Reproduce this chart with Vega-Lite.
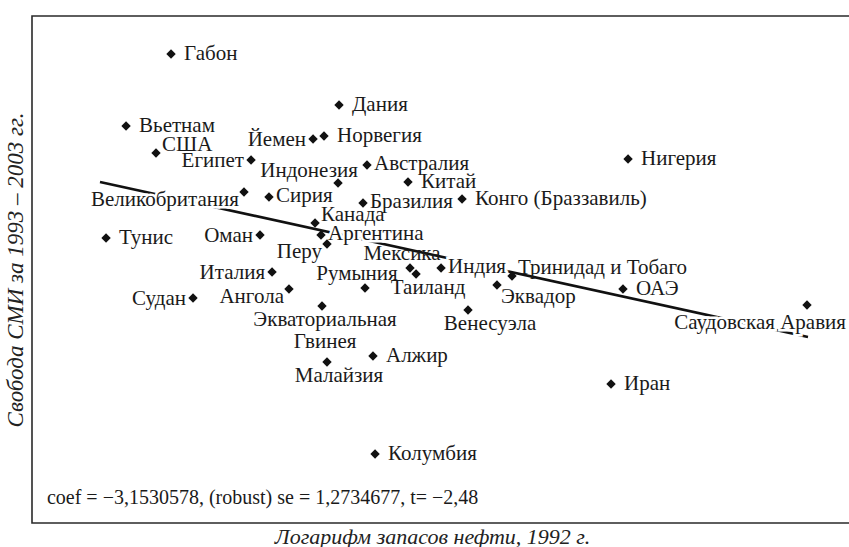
{
  "$schema": "https://vega.github.io/schema/vega-lite/v6.json",
  "width": 817,
  "height": 507,
  "autosize": {"type": "none"},
  "padding": {"left": 32, "top": 16, "right": 0, "bottom": 24},
  "background": "white",
  "config": {"view": {"stroke": null}, "font": "Liberation Serif", "text": {"font": "Liberation Serif"}},
  "datasets": {
    "pts": [
      {"name": "Габон", "x": 1.675, "y": 81.41, "pos": "r"},
      {"name": "Дания", "x": 3.699, "y": 72.56, "pos": "r"},
      {"name": "Вьетнам", "x": 1.133, "y": 68.91, "pos": "r"},
      {"name": "Йемен", "x": 3.386, "y": 66.66, "pos": "l"},
      {"name": "Норвегия", "x": 3.518, "y": 67.18, "pos": "r"},
      {"name": "США", "x": 1.494, "y": 64.23, "pos": "ru"},
      {"name": "Египет", "x": 2.639, "y": 63.01, "pos": "l"},
      {"name": "Австралия", "x": 4.036, "y": 62.14, "pos": "rc"},
      {"name": "Нигерия", "x": 7.181, "y": 63.18, "pos": "r"},
      {"name": "Индонезия", "x": 3.687, "y": 59.02, "pos": "al"},
      {"name": "Китай", "x": 4.53, "y": 59.19, "pos": "r"},
      {"name": "Великобритания", "x": 2.554, "y": 57.46, "pos": "ld"},
      {"name": "Сирия", "x": 2.855, "y": 56.59, "pos": "rc"},
      {"name": "Бразилия", "x": 3.988, "y": 55.55, "pos": "rc"},
      {"name": "Конго (Браззавиль)", "x": 5.181, "y": 56.24, "pos": "r"},
      {"name": "Канада", "x": 3.41, "y": 52.07, "pos": "ru"},
      {"name": "Аргентина", "x": 3.482, "y": 49.99, "pos": "rc"},
      {"name": "Перу", "x": 3.554, "y": 48.43, "pos": "ld"},
      {"name": "Оман", "x": 2.747, "y": 49.99, "pos": "l"},
      {"name": "Тунис", "x": 0.892, "y": 49.47, "pos": "r"},
      {"name": "Италия", "x": 2.892, "y": 43.57, "pos": "l"},
      {"name": "Мексика", "x": 4.554, "y": 44.26, "pos": "a"},
      {"name": "Таиланд", "x": 4.627, "y": 43.22, "pos": "b"},
      {"name": "Индия", "x": 4.928, "y": 44.26, "pos": "rc"},
      {"name": "Тринидад и Тобаго", "x": 5.783, "y": 42.87, "pos": "ru"},
      {"name": "Румыния", "x": 4.012, "y": 40.79, "pos": "a"},
      {"name": "Ангола", "x": 3.096, "y": 40.62, "pos": "ld"},
      {"name": "Экваториальная Гвинея", "x": 3.494, "y": 37.67, "pos": "bc"},
      {"name": "Эквадор", "x": 5.602, "y": 41.31, "pos": "rd"},
      {"name": "ОАЭ", "x": 7.12, "y": 40.62, "pos": "r"},
      {"name": "Судан", "x": 1.94, "y": 39.06, "pos": "l"},
      {"name": "Венесуэла", "x": 5.253, "y": 36.97, "pos": "b2"},
      {"name": "Саудовская Аравия", "x": 9.337, "y": 37.84, "pos": "bl"},
      {"name": "Малайзия", "x": 3.554, "y": 27.95, "pos": "b"},
      {"name": "Алжир", "x": 4.108, "y": 28.99, "pos": "r"},
      {"name": "Иран", "x": 6.976, "y": 24.13, "pos": "r"},
      {"name": "Колумбия", "x": 4.133, "y": 11.98, "pos": "r"}
    ],
    "fit": [
      {"x": 0.819, "y": 59.19},
      {"x": 9.349, "y": 32.29}
    ],
    "frame": [
      {"x": 10.6, "y": 88, "o": 1},
      {"x": 0, "y": 88, "o": 2},
      {"x": 0, "y": 0, "o": 3},
      {"x": 10.6, "y": 0, "o": 4}
    ],
    "note": [
      {"x": 0.18, "y": 4.34, "t": "coef = −3,1530578,  (robust) se = 1,2734677,  t= −2,48"}
    ]
  },
  "data": {"name": "pts"},
  "encoding": {
    "x": {
      "field": "x", "type": "quantitative",
      "scale": {"domain": [0, 9.843], "nice": false, "zero": false},
      "axis": {
        "title": "Логарифм запасов нефти, 1992 г.",
        "labels": false, "ticks": false, "domain": false, "grid": false,
        "titleFont": "Liberation Serif", "titleFontStyle": "italic", "titleFontWeight": "normal",
        "titleFontSize": 22, "titleColor": "#222", "titlePadding": 3, "titleX": 400
      }
    },
    "y": {
      "field": "y", "type": "quantitative",
      "scale": {"domain": [0, 88], "nice": false, "zero": false},
      "axis": {
        "title": "Свобода СМИ за 1993 – 2003 гг.",
        "labels": false, "ticks": false, "domain": false, "grid": false,
        "titleFont": "Liberation Serif", "titleFontStyle": "italic", "titleFontWeight": "normal",
        "titleFontSize": 23, "titleColor": "#222", "titlePadding": 5
      }
    }
  },
  "layer": [
    {
      "data": {"name": "frame"},
      "mark": {"type": "line", "color": "#2a2a2a", "strokeWidth": 1.6, "clip": false},
      "encoding": {"order": {"field": "o", "type": "quantitative"}}
    },
    {
      "data": {"name": "fit"},
      "mark": {"type": "line", "color": "#111", "strokeWidth": 2.6},
      "encoding": {}
    },
    {
      "transform": [{"filter": "datum.pos === 'rc'"}],
      "mark": {"type": "text", "font": "Liberation Serif", "align": "left", "baseline": "middle", "dx": 7, "dy": -1, "fontSize": 21, "stroke": "white", "strokeWidth": 5, "color": "white"},
      "encoding": {"text": {"field": "name"}}
    },
    {
      "transform": [{"filter": "datum.pos === 'ld'"}],
      "mark": {"type": "text", "font": "Liberation Serif", "align": "right", "baseline": "middle", "dx": -5, "dy": 8, "fontSize": 21, "stroke": "white", "strokeWidth": 5, "color": "white"},
      "encoding": {"text": {"field": "name"}}
    },
    {
      "transform": [{"filter": "datum.pos === 'bl'"}],
      "mark": {"type": "text", "font": "Liberation Serif", "align": "right", "baseline": "middle", "dx": 39, "dy": 18, "fontSize": 21, "stroke": "white", "strokeWidth": 5, "color": "white"},
      "encoding": {"text": {"field": "name"}}
    },
    {
      "transform": [{"filter": "datum.pos === 'r'"}],
      "mark": {"type": "text", "font": "Liberation Serif", "align": "left", "baseline": "middle", "dx": 13, "dy": 0, "fontSize": 21, "color": "#1a1a1a"},
      "encoding": {"text": {"field": "name"}}
    },
    {
      "transform": [{"filter": "datum.pos === 'rc'"}],
      "mark": {"type": "text", "font": "Liberation Serif", "align": "left", "baseline": "middle", "dx": 7, "dy": -1, "fontSize": 21, "color": "#1a1a1a"},
      "encoding": {"text": {"field": "name"}}
    },
    {
      "transform": [{"filter": "datum.pos === 'ru'"}],
      "mark": {"type": "text", "font": "Liberation Serif", "align": "left", "baseline": "middle", "dx": 6, "dy": -8, "fontSize": 21, "color": "#1a1a1a"},
      "encoding": {"text": {"field": "name"}}
    },
    {
      "transform": [{"filter": "datum.pos === 'rd'"}],
      "mark": {"type": "text", "font": "Liberation Serif", "align": "left", "baseline": "middle", "dx": 4, "dy": 12, "fontSize": 21, "color": "#1a1a1a"},
      "encoding": {"text": {"field": "name"}}
    },
    {
      "transform": [{"filter": "datum.pos === 'l'"}],
      "mark": {"type": "text", "font": "Liberation Serif", "align": "right", "baseline": "middle", "dx": -7, "dy": 1, "fontSize": 21, "color": "#1a1a1a"},
      "encoding": {"text": {"field": "name"}}
    },
    {
      "transform": [{"filter": "datum.pos === 'ld'"}],
      "mark": {"type": "text", "font": "Liberation Serif", "align": "right", "baseline": "middle", "dx": -5, "dy": 8, "fontSize": 21, "color": "#1a1a1a"},
      "encoding": {"text": {"field": "name"}}
    },
    {
      "transform": [{"filter": "datum.pos === 'a'"}],
      "mark": {"type": "text", "font": "Liberation Serif", "align": "center", "baseline": "middle", "dx": -8, "dy": -14, "fontSize": 21, "color": "#1a1a1a"},
      "encoding": {"text": {"field": "name"}}
    },
    {
      "transform": [{"filter": "datum.pos === 'al'"}],
      "mark": {"type": "text", "font": "Liberation Serif", "align": "center", "baseline": "middle", "dx": -29, "dy": -12, "fontSize": 21, "color": "#1a1a1a"},
      "encoding": {"text": {"field": "name"}}
    },
    {
      "transform": [{"filter": "datum.pos === 'b'"}],
      "mark": {"type": "text", "font": "Liberation Serif", "align": "center", "baseline": "middle", "dx": 12, "dy": 14, "fontSize": 21, "color": "#1a1a1a"},
      "encoding": {"text": {"field": "name"}}
    },
    {
      "transform": [{"filter": "datum.pos === 'b2'"}],
      "mark": {"type": "text", "font": "Liberation Serif", "align": "center", "baseline": "middle", "dx": 22, "dy": 14, "fontSize": 21, "color": "#1a1a1a"},
      "encoding": {"text": {"field": "name"}}
    },
    {
      "transform": [{"filter": "datum.pos === 'bc'"}],
      "mark": {"type": "text", "font": "Liberation Serif", "align": "center", "baseline": "middle", "dx": 3, "dy": 14, "fontSize": 21, "lineBreak": " ", "lineHeight": 22, "color": "#1a1a1a"},
      "encoding": {"text": {"field": "name"}}
    },
    {
      "transform": [{"filter": "datum.pos === 'bl'"}],
      "mark": {"type": "text", "font": "Liberation Serif", "align": "right", "baseline": "middle", "dx": 39, "dy": 18, "fontSize": 21, "color": "#1a1a1a"},
      "encoding": {"text": {"field": "name"}}
    },
    {
      "mark": {"type": "point", "shape": "diamond", "filled": true, "size": 88, "color": "#111", "opacity": 1},
      "encoding": {}
    },
    {
      "data": {"name": "note"},
      "mark": {"type": "text", "font": "Liberation Serif", "align": "left", "baseline": "middle", "fontSize": 20, "color": "#1a1a1a"},
      "encoding": {"text": {"field": "t"}}
    }
  ]
}
